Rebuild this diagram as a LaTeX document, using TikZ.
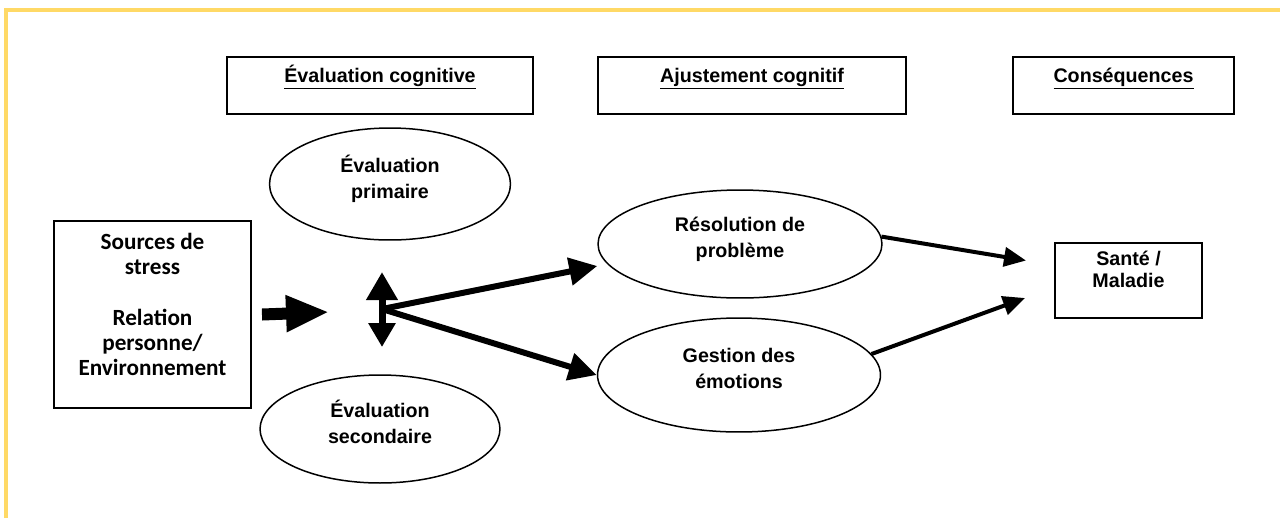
\documentclass[tikz,border=0pt]{standalone}
\usepackage{fontspec}
\setmainfont{Liberation Sans}
\newfontfamily\calibfont{Carlito}
\usepackage{tikz}
\usetikzlibrary{arrows.meta}
\usetikzlibrary{shapes.geometric}

\definecolor{framegold}{RGB}{255,217,102}

\begin{document}
\begin{tikzpicture}[x=0.02cm,y=-0.02cm,
    font=\bfseries\fontsize{11.2}{14.8}\selectfont]

      \useasboundingbox[fill=white] (0,0) rectangle (1280,518);
      \draw[framegold,line width=0.07cm] (6,518) -- (6,10) -- (1280,10);

      % column headers
      \begin{scope}[every node/.style={rectangle,draw,line width=0.04cm,
          inner xsep=0pt,inner ysep=0.1cm,text height=0.4cm,text depth=0.54cm}]
        \node[minimum width=6.12cm] (evalcog) at (380,85.5) {\underline{Évaluation cognitive}};
        \node[minimum width=6.16cm] (ajust) at (752,85.5) {\underline{Ajustement cognitif}};
        \node[minimum width=4.42cm] (conseq) at (1123.5,85.5) {\underline{Conséquences}};
      \end{scope}

      % text sits a little high in every shape
      \begin{scope}[every node/.style={ellipse,draw,line width=0.03cm,inner sep=0pt,align=center}]
        \node[minimum width=4.82cm,minimum height=2.24cm] (evalprim) at (390,184) {Évaluation\\primaire\\[-7pt]\mbox{}};
        \node[minimum width=4.8cm,minimum height=2.16cm] (evalsec) at (380,429) {Évaluation\\secondaire\\[-7pt]\mbox{}};
        \node[minimum width=5.68cm,minimum height=2.16cm] (resol) at (740,244) {Résolution de\\problème\\[-7pt]\mbox{}};
        \node[minimum width=5.66cm,minimum height=2.28cm] (gestion) at (739,375) {Gestion des\\émotions\\[-7pt]\mbox{}};
      \end{scope}

      \node[draw,line width=0.04cm,minimum width=3.94cm,minimum height=3.74cm,align=center,
        font=\calibfont\bfseries\fontsize{13.2}{14.4}\selectfont] (sources) at (152.5,314.5)
        {Sources de\\stress\\[14.4pt]Relation\\personne/\\Environnement\\[-3pt]\mbox{}};
      \node[draw,line width=0.04cm,minimum width=2.94cm,minimum height=1.5cm,align=center,
        font=\bfseries\fontsize{11.2}{12.6}\selectfont] (sante) at (1128.5,280.5) {Santé /\\Maladie\\\mbox{}};

      \coordinate (hubin) at (329,312);
      \coordinate (hub) at (382,309);
      \coordinate (uptip) at (382,272);
      \coordinate (dntip) at (382,347);

      \begin{scope}
        \path [-{Triangle[length=0.86cm,width=0.68cm]},line width=0.24cm]
          ([xshift=0.2cm]sources.east) edge (hubin);
        \path [{Triangle[length=0.56cm,width=0.6cm]}-{Triangle[length=0.48cm,width=0.52cm]},line width=0.14cm]
          (uptip) edge (dntip);
        \path [-{Triangle[length=0.56cm,width=0.54cm]},line width=0.12cm]
          (hub) edge ([yshift=-0.44cm]resol.west)
          (hub) edge (gestion.west);
        \path [-{Triangle[length=0.44cm,width=0.38cm]},line width=0.08cm]
          (resol.3) edge ([xshift=-0.56cm,yshift=0.4cm]sante.west)
          (gestion.9) edge ([xshift=-0.58cm,yshift=-0.35cm]sante.west);
      \end{scope}
    \end{tikzpicture}
\end{document}
